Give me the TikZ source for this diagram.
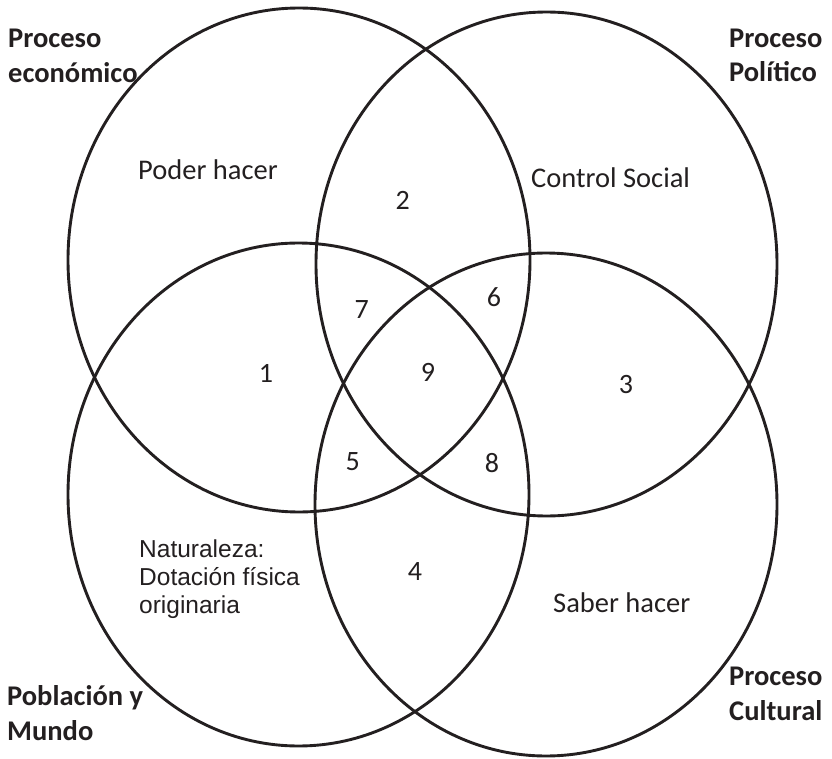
\documentclass[tikz,border=0pt]{standalone}
\usepackage{fontspec}
\setmainfont{Carlito}
\newfontfamily\arialfont{Liberation Sans}
\definecolor{ink}{HTML}{231F20}
\begin{document}
\begin{tikzpicture}[x=1pt,y=-1pt,
  ring/.style={draw=ink,line width=2.9pt},
  title/.style={anchor=base west,inner sep=0pt,text=ink,font=\fontsize{28.5}{35}\selectfont\bfseries},
  lbl/.style={anchor=base west,inner sep=0pt,text=ink,font=\fontsize{28.5}{34}\selectfont},
  num/.style={inner sep=0pt,text=ink,font=\fontsize{28}{34}\selectfont},
  nat/.style={anchor=base west,inner sep=0pt,text=ink,font=\arialfont\fontsize{24.5}{28.5}\selectfont}]
\useasboundingbox (0,0) rectangle (832,759);
% ellipses
\draw[ring] (299,260) ellipse [x radius=231pt, y radius=252pt];
\draw[ring] (546.5,264) ellipse [x radius=230.5pt, y radius=252pt];
\draw[ring] (298.5,494.5) ellipse [x radius=230.5pt, y radius=251.5pt];
\draw[ring] (546,504.5) ellipse [x radius=231pt, y radius=251.5pt];
% titles
\node[title] (econA) at (8,48) {Proceso};
\node[title] (econB) at (8,83) {económico};
\node[title] (polA) at (729,48) {Proceso};
\node[title] (polB) at (729,82) {Político};
\node[title] (pobA) at (7,705) {Población y};
\node[title] (pobB) at (7,740) {Mundo};
\node[title] (culA) at (729,685) {Proceso};
\node[title] (culB) at (729,720) {Cultural};
% region labels
\node[lbl] (poder) at (138,180) {Poder hacer};
\node[lbl] (control) at (531,188) {Control Social};
\node[lbl] (saber) at (553,612) {Saber hacer};
\node[nat] (naturA) at (139,557) {Naturaleza:};
\node[nat] (naturB) at (139,585) {Dotación física};
\node[nat] (naturC) at (139,613) {originaria};
% numbers
\node[num] (n1) at (266,373) {1};
\node[num] (n2) at (402.7,200) {2};
\node[num] (n3) at (626,385) {3};
\node[num] (n4) at (415,572) {4};
\node[num] (n5) at (352.7,461.7) {5};
\node[num] (n6) at (494,296.7) {6};
\node[num] (n7) at (361.7,310) {7};
\node[num] (n8) at (492,463) {8};
\node[num] (n9) at (428,372.7) {9};
\end{tikzpicture}
\end{document}
